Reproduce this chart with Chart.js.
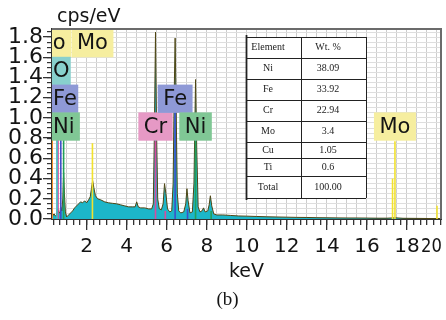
<!DOCTYPE html>
<html>
<head>
<meta charset="utf-8">
<script src="https://cdn.jsdelivr.net/npm/chart.js@4"></script>
<style>
  html, body { margin: 0; padding: 0; background: #fff; overflow: hidden; }
</style>
</head>
<body>
<canvas id="edsChart" width="446" height="320"></canvas>
<script>
// EDS spectrum (keV / cps per eV)
const energy = [0.28, 0.32, 0.38, 0.44, 0.50, 0.55, 0.60, 0.66, 0.71, 0.76, 0.81, 0.85, 0.89, 0.94,
  1.00, 1.10, 1.20, 1.30, 1.40, 1.50, 1.60, 1.70, 1.80, 1.90, 2.00, 2.10, 2.18, 2.24, 2.30, 2.36, 2.44,
  2.55, 2.70, 2.90, 3.10, 3.30, 3.50, 3.70, 3.90, 4.10, 4.30, 4.42, 4.50, 4.58, 4.70, 4.90, 5.10, 5.25,
  5.33, 5.38, 5.44, 5.49, 5.55, 5.63, 5.73, 5.82, 5.89, 5.96, 6.04, 6.15, 6.25, 6.32, 6.37, 6.42, 6.47,
  6.53, 6.60, 6.70, 6.85, 6.95, 7.01, 7.07, 7.16, 7.28, 7.36, 7.44, 7.50, 7.57, 7.66, 7.76, 7.84, 7.92,
  8.05, 8.12, 8.18, 8.25, 8.35, 8.50, 8.80, 9.20, 9.60, 10.0, 10.5, 11.0, 11.5, 12.0, 12.5, 13.0, 13.5,
  14.0, 14.5, 15.0, 15.5, 16.0, 16.5, 17.0, 17.4, 17.8, 18.5, 19.0, 19.7];
const counts = [0.01, 0.04, 0.05, 0.03, 0.04, 0.10, 0.07, 0.06, 0.12, 0.08, 0.20, 0.46, 0.25, 0.07,
  0.02, 0.04, 0.06, 0.08, 0.11, 0.13, 0.15, 0.17, 0.16, 0.18, 0.16, 0.19, 0.22, 0.30, 0.38, 0.31, 0.23,
  0.20, 0.19, 0.17, 0.16, 0.155, 0.15, 0.14, 0.13, 0.12, 0.12, 0.12, 0.17, 0.12, 0.11, 0.11, 0.10, 0.10,
  0.15, 0.80, 1.85, 0.90, 0.20, 0.10, 0.09, 0.15, 0.35, 0.25, 0.10, 0.07, 0.08, 0.35, 1.20, 1.79, 1.10,
  0.25, 0.08, 0.06, 0.07, 0.15, 0.30, 0.18, 0.06, 0.07, 0.35, 1.38, 0.70, 0.12, 0.07, 0.08, 0.11, 0.07,
  0.08, 0.14, 0.23, 0.13, 0.05, 0.04, 0.04, 0.035, 0.03, 0.028, 0.025, 0.022, 0.02, 0.018, 0.016, 0.015, 0.013,
  0.012, 0.011, 0.010, 0.010, 0.009, 0.008, 0.008, 0.012, 0.007, 0.006, 0.005, 0.004];

// element line markers
const markerEnergy = [0.28, 0.52, 0.57, 0.71, 0.85, 2.29, 5.44, 5.93, 6.42, 7.04, 7.44, 8.22, 17.28, 17.40, 19.50];
const markerHeight = [0.80, 0.80, 0.80, 0.80, 0.80, 0.75, 0.77, 0.08, 1.06, 0.10, 0.77, 0.08, 0.40, 0.77, 0.13];
const markerElement = ['C', 'O', 'Cr', 'Fe', 'Ni', 'Mo', 'Cr', 'Cr', 'Fe', 'Fe', 'Ni', 'Ni', 'Mo', 'Mo', 'Mo'];

// element labels
const labelText = ['Mo', 'Mo', 'O', 'Fe', 'Ni', 'Cr', 'Fe', 'Ni', 'Mo'];
const labelEnergy = [0.17, 2.29, 0.52, 0.71, 0.85, 5.44, 6.42, 7.44, 17.40];
const labelRow = [0, 0, 1, 2, 3, 3, 2, 3, 3];

// composition table
const tableElements = ['Ni', 'Fe', 'Cr', 'Mo', 'Cu', 'Ti', 'Total'];
const tableWt = ['38.09', '33.92', '22.94', '3.4', '1.05', '0.6', '100.00'];

const kevMin = 0.27, kevMax = 19.7, cpsMax = 1.88;

const boxColors = { Mo: '#f6ee9f', O: '#88d0cd', Fe: '#8e99d6', Ni: '#80c795', Cr: '#e699c5' };
const lineColors = { C: '#f0922c', O: '#3fc2c4', Cr: '#d94aa0', Fe: '#3f4fc8', Ni: '#22a05a', Mo: '#f2e22e' };

const markerSets = markerEnergy.map((e, i) => ({
  data: [{ x: e, y: 0 }, { x: e, y: markerHeight[i] }],
  borderColor: lineColors[markerElement[i]],
  borderWidth: 1.6,
  pointRadius: 0,
  fill: false,
  order: 0
}));

const overlay = {
  id: 'overlay',
  afterDatasetsDraw(chart) {
    const ctx = chart.ctx;
    const area = chart.chartArea;
    const x = chart.scales.x;
    const rowH = 27.8;

    // label boxes
    ctx.save();
    ctx.beginPath();
    ctx.rect(area.left, area.top, area.right - area.left, area.bottom - area.top);
    ctx.clip();
    ctx.font = '21px "DejaVu Sans"';
    ctx.textBaseline = 'middle';
    ctx.textAlign = 'center';
    labelText.forEach((t, i) => {
      const cx = x.getPixelForValue(labelEnergy[i]);
      const tw = ctx.measureText(t).width;
      const w = tw + 11;
      const top = area.top + labelRow[i] * rowH;
      ctx.fillStyle = boxColors[t];
      ctx.fillRect(cx - w / 2, top, w, rowH + 0.5);
      let tx = cx;
      if (cx > area.left && cx - tw / 2 < area.left + 1) tx = area.left + 1 + tw / 2;
      ctx.fillStyle = '#141414';
      ctx.fillText(t, tx, top + rowH / 2 + 1);
    });
    ctx.restore();

    // table
    const cols = [246, 301, 366];
    const rows = [37, 58, 79, 100, 121, 142, 158, 176, 198];
    ctx.save();
    ctx.fillStyle = '#fff';
    ctx.fillRect(cols[0], rows[0], cols[2] - cols[0], rows[rows.length - 1] - rows[0]);
    ctx.strokeStyle = '#222';
    ctx.lineWidth = 1;
    rows.forEach(r => {
      ctx.beginPath();
      ctx.moveTo(cols[0], r + 0.5);
      ctx.lineTo(cols[2], r + 0.5);
      ctx.stroke();
    });
    cols.forEach((c, i) => {
      ctx.lineWidth = i === 0 ? 1.8 : 1;
      ctx.beginPath();
      ctx.moveTo(c + 0.5, rows[0] - (i === 0 ? 2 : 0));
      ctx.lineTo(c + 0.5, rows[rows.length - 1] + (i === 0 ? 2 : 0));
      ctx.stroke();
    });
    ctx.fillStyle = '#222';
    ctx.font = '10px "Liberation Serif"';
    ctx.textAlign = 'center';
    ctx.textBaseline = 'middle';
    ctx.fillText('Element', 268, (rows[0] + rows[1]) / 2);
    ctx.fillText('Wt. %', 328, (rows[0] + rows[1]) / 2);
    tableElements.forEach((el, i) => {
      const cy = (rows[i + 1] + rows[i + 2]) / 2;
      ctx.fillText(el, 268, cy);
      ctx.fillText(tableWt[i], 328, cy);
    });
    ctx.restore();
  },
  afterDraw(chart) {
    const ctx = chart.ctx;
    const area = chart.chartArea;
    ctx.save();
    // top and right frame
    ctx.strokeStyle = '#6b6b6b';
    ctx.lineWidth = 2;
    ctx.beginPath();
    ctx.moveTo(area.left, area.top);
    ctx.lineTo(area.right, area.top);
    ctx.lineTo(area.right, area.bottom);
    ctx.stroke();

    ctx.fillStyle = '#141414';
    ctx.font = '19px "DejaVu Sans"';
    ctx.textAlign = 'left';
    ctx.textBaseline = 'alphabetic';
    ctx.fillText('cps/eV', 57, 22);
    ctx.textAlign = 'center';
    ctx.fillText('keV', (area.left + area.right) / 2, 277);

    // last x label squeezed at the right edge
    const items = chart.scales.xMajor.getLabelItems();
    const it = items[items.length - 1];
    ctx.font = '20px "DejaVu Sans"';
    ctx.textAlign = 'left';
    ctx.textBaseline = it.options.textBaseline;
    ctx.save();
    ctx.translate(421, it.options.translation[1] + it.textOffset);
    ctx.scale(0.82, 1);
    ctx.fillText('20', 0, 0);
    ctx.restore();

    ctx.font = '19px "Liberation Serif"';
    ctx.textAlign = 'center';
    ctx.textBaseline = 'alphabetic';
    ctx.fillText('(b)', 227.5, 305);
    ctx.restore();
  }
};

const axisFontY = { family: 'DejaVu Sans', size: 22 };
const axisFontX = { family: 'DejaVu Sans', size: 20 };

new Chart(document.getElementById('edsChart'), {
  type: 'line',
  data: {
    datasets: markerSets.concat([{
      data: energy.map((e, i) => ({ x: e, y: counts[i] })),
      borderColor: '#4f4614',
      borderWidth: 1,
      backgroundColor: '#1cb6c9',
      fill: 'origin',
      pointRadius: 0,
      tension: 0,
      order: 10
    }])
  },
  options: {
    responsive: false,
    animation: false,
    layout: { padding: { top: 29, right: 5, left: 0, bottom: 0 } },
    plugins: { legend: { display: false }, tooltip: { enabled: false } },
    scales: {
      x: {
        type: 'linear', min: kevMin, max: kevMax, position: 'bottom', weight: 0,
        ticks: { display: false, stepSize: 0.5, includeBounds: false },
        grid: { color: '#cdcdcd', drawTicks: false },
        border: { display: true, color: '#333', width: 2 },
        afterFit: s => { s.height = 0; }
      },
      xMinor: {
        type: 'linear', min: kevMin, max: kevMax, position: 'bottom', weight: 1,
        ticks: { display: false, stepSize: 1 / 3, includeBounds: false },
        grid: { drawOnChartArea: false, tickLength: 6, color: '#333', lineWidth: 1.3 },
        border: { display: false },
        afterFit: s => { s.height = 0; }
      },
      xMajor: {
        type: 'linear', min: kevMin, max: kevMax, position: 'bottom', weight: 2,
        ticks: { stepSize: 2, includeBounds: false, autoSkip: false, maxRotation: 0,
          color: '#141414', font: axisFontX, padding: 5 },
        grid: { drawOnChartArea: false, tickLength: 11, color: '#333', lineWidth: 1.3 },
        border: { display: false },
        afterFit: s => { s.height = 101; }
      },
      y: {
        type: 'linear', min: 0, max: cpsMax, position: 'left', weight: 0,
        ticks: { display: false, stepSize: 0.05, includeBounds: false },
        grid: { color: '#dedede', drawTicks: false },
        border: { display: true, color: '#333', width: 2 },
        afterFit: s => { s.width = 0; }
      },
      yMinor: {
        type: 'linear', min: 0, max: cpsMax, position: 'left', weight: 1,
        ticks: { display: false, stepSize: 0.05, includeBounds: false },
        grid: { drawOnChartArea: false, tickLength: 5, color: '#333', lineWidth: 1.2 },
        border: { display: false },
        afterFit: s => { s.width = 0; }
      },
      yMajor: {
        type: 'linear', min: 0, max: cpsMax, position: 'left', weight: 2,
        ticks: { stepSize: 0.2, includeBounds: false, autoSkip: false, padding: 0,
          color: '#141414', font: axisFontY, callback: v => v.toFixed(1) },
        grid: { drawOnChartArea: false, tickLength: 9, color: '#333', lineWidth: 1.3 },
        border: { display: false },
        afterFit: s => { s.width = 52; }
      }
    }
  },
  plugins: [overlay]
});
</script>
</body>
</html>
